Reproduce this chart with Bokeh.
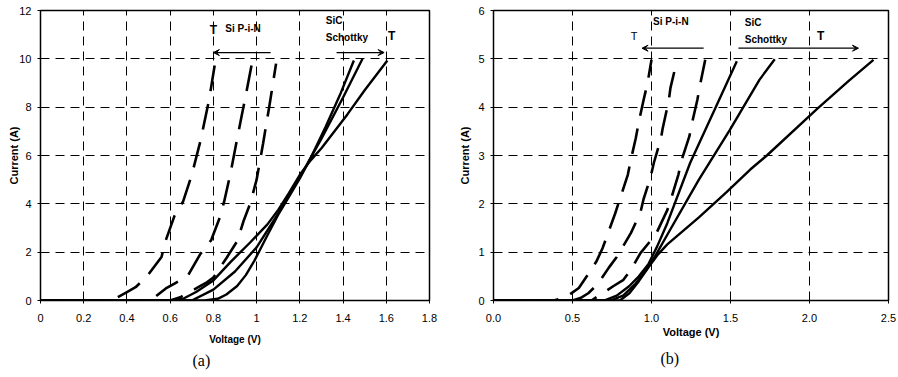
from bokeh.plotting import figure
from bokeh.layouts import row
from bokeh.models import Range1d, FixedTicker, Label, Arrow, VeeHead, Title
from bokeh.embed import file_html
from bokeh.resources import INLINE

# ---------------- Panel (a) data ----------------
a_x_ticks = [0, 0.2, 0.4, 0.6, 0.8, 1.0, 1.2, 1.4, 1.6, 1.8]
a_x_labels = ["0", "0.2", "0.4", "0.6", "0.8", "1", "1.2", "1.4", "1.6", "1.8"]
a_y_ticks = [0, 2, 4, 6, 8, 10, 12]
a_y_labels = ["0", "2", "4", "6", "8", "10", "12"]

# Si P-i-N (dashed), three temperatures
a_pin1_v = [0, 0.30, 0.34, 0.40, 0.44, 0.49, 0.56, 0.58, 0.62, 0.66, 0.70, 0.74, 0.78, 0.81]
a_pin1_i = [0, 0, 0.05, 0.35, 0.55, 0.97, 1.8, 2.5, 3.5, 4.1, 5.2, 6.6, 8.3, 9.95]
a_pin2_v = [0, 0.50, 0.53, 0.58, 0.62, 0.68, 0.74, 0.79, 0.83, 0.85, 0.88, 0.91, 0.93, 0.95, 0.98]
a_pin2_i = [0, 0, 0.15, 0.5, 0.7, 1.0, 1.93, 2.5, 3.44, 4.1, 5.3, 6.7, 7.6, 8.5, 9.9]
a_pin3_v = [0, 0.60, 0.65, 0.73, 0.77, 0.80, 0.86, 0.91, 0.94, 0.97, 1.00, 1.03, 1.06, 1.09]
a_pin3_i = [0, 0, 0.15, 0.55, 0.75, 0.95, 1.75, 2.45, 3.3, 4.0, 5.0, 6.5, 8.1, 9.8]

# SiC Schottky (solid), three temperatures
a_sch1_v = [0, 0.60, 0.66, 0.72, 0.80, 0.88, 0.97, 1.05, 1.10, 1.15, 1.20, 1.25, 1.30, 1.42, 1.50, 1.605]
a_sch1_i = [0, 0, 0.07, 0.35, 0.83, 1.6, 2.4, 3.15, 3.75, 4.45, 5.2, 5.8, 6.3, 7.7, 8.7, 9.93]
a_sch2_v = [0, 0.76, 0.82, 0.86, 0.91, 0.95, 0.99, 1.05, 1.10, 1.15, 1.20, 1.25, 1.32, 1.39, 1.45]
a_sch2_i = [0, 0, 0.07, 0.25, 0.6, 1.05, 1.65, 2.7, 3.55, 4.3, 5.05, 5.9, 7.2, 8.6, 9.93]
a_sch3_v = [0, 0.70, 0.80, 0.90, 1.00, 1.10, 1.20, 1.30, 1.40, 1.49]
a_sch3_i = [0, 0, 0.45, 1.2, 2.2, 3.6, 5.1, 6.7, 8.4, 10.0]

# ---------------- Panel (b) data ----------------
b_x_ticks = [0, 0.5, 1.0, 1.5, 2.0, 2.5]
b_x_labels = ["0.0", "0.5", "1.0", "1.5", "2.0", "2.5"]
b_y_ticks = [0, 1, 2, 3, 4, 5, 6]
b_y_labels = ["0", "1", "2", "3", "4", "5", "6"]

b_pin1_v = [0, 0.38, 0.42, 0.48, 0.54, 0.60, 0.65, 0.69, 0.72, 0.77, 0.81, 0.85, 0.87, 0.90, 0.92, 0.95, 0.975, 1.0]
b_pin1_i = [0, 0, 0.03, 0.12, 0.26, 0.55, 0.8, 1.08, 1.35, 1.8, 2.2, 2.6, 2.92, 3.35, 3.7, 4.15, 4.5, 4.98]
b_pin2_v = [0, 0.50, 0.55, 0.60, 0.66, 0.73, 0.78, 0.82, 0.87, 0.93, 0.95, 0.994, 1.015, 1.06, 1.07, 1.11, 1.12, 1.16]
b_pin2_i = [0, 0, 0.05, 0.15, 0.34, 0.68, 0.9, 1.12, 1.4, 1.82, 2.1, 2.55, 2.85, 3.35, 3.55, 4.15, 4.4, 4.95]
b_pin3_v = [0, 0.62, 0.69, 0.76, 0.82, 0.87, 0.93, 0.98, 1.035, 1.10, 1.13, 1.17, 1.19, 1.24, 1.255, 1.29, 1.31, 1.34]
b_pin3_i = [0, 0, 0.15, 0.3, 0.42, 0.64, 0.98, 1.18, 1.42, 1.87, 2.17, 2.6, 2.9, 3.4, 3.65, 4.15, 4.5, 4.98]

b_sch1_v = [0, 0.70, 0.78, 0.86, 0.92, 0.98, 1.036, 1.10, 1.245, 1.40, 1.54]
b_sch1_i = [0, 0, 0.1, 0.3, 0.5, 0.75, 1.12, 1.6, 2.85, 3.95, 4.95]
b_sch2_v = [0, 0.74, 0.82, 0.90, 0.96, 1.02, 1.10, 1.30, 1.496, 1.684, 1.78]
b_sch2_i = [0, 0, 0.1, 0.35, 0.6, 0.9, 1.36, 2.5, 3.53, 4.57, 4.99]
b_sch3_v = [0, 0.80, 0.86, 0.92, 0.98, 1.04, 1.10, 1.30, 1.475, 1.625, 1.73, 2.05, 2.25, 2.405]
b_sch3_i = [0, 0, 0.15, 0.4, 0.68, 0.95, 1.16, 1.72, 2.24, 2.71, 3.0, 3.97, 4.55, 4.98]

FONT = "Liberation Sans"
DASH = "26 13"
GRID_DASH = "9 6"


def make_fig(w, h, xr, yr, xt, xl, yt, yl, bl, br, bt, bb):
    p = figure(width=w, height=h, x_range=Range1d(*xr), y_range=Range1d(*yr),
               output_backend="svg", toolbar_location=None,
               min_border_left=bl, min_border_right=br, min_border_top=bt, min_border_bottom=bb)
    p.background_fill_color = "white"
    p.border_fill_color = "white"
    p.outline_line_color = "black"
    p.outline_line_width = 1.5
    p.xaxis.ticker = FixedTicker(ticks=xt)
    p.yaxis.ticker = FixedTicker(ticks=yt)
    p.xaxis.major_label_overrides = {t: s for t, s in zip(xt, xl)}
    p.yaxis.major_label_overrides = {t: s for t, s in zip(yt, yl)}
    for ax in (p.xaxis[0], p.yaxis[0]):
        ax.axis_line_color = "black"
        ax.major_tick_line_color = "black"
        ax.major_tick_out = 3
        ax.major_tick_in = 0
        ax.minor_tick_line_color = None
        ax.major_label_text_font = FONT
        ax.major_label_text_font_size = "11px"
        ax.major_label_text_color = "black"
        ax.axis_label_text_font = FONT
        ax.axis_label_text_font_style = "bold"
        ax.axis_label_text_color = "black"
    p.xaxis.major_label_standoff = 10
    p.yaxis.major_label_standoff = 6
    for g in (p.xgrid[0], p.ygrid[0]):
        g.grid_line_color = "black"
        g.grid_line_dash = GRID_DASH
        g.grid_line_width = 1
    return p


def lab(p, x, y, text, size="10px", style="bold", align="left", base="middle", angle=0, font=FONT):
    p.add_layout(Label(x=x, y=y, text=text, text_font=font, text_font_size=size,
                       text_font_style=style, text_align=align, text_baseline=base,
                       angle=angle, text_color="black"))


def arrow(p, x0, y0, x1, y1):
    p.add_layout(Arrow(end=VeeHead(size=6, fill_color="black", line_color="black"),
                       x_start=x0, y_start=y0, x_end=x1, y_end=y1,
                       line_color="black", line_width=1.3))


def caption(p, text, offset, standoff):
    p.add_layout(Title(text=text, align="left", offset=offset, standoff=standoff,
                       text_font="Liberation Serif", text_font_size="16px",
                       text_font_style="normal", text_color="black"), "below")


# ---------------- Panel (a) ----------------
pa = make_fig(449, 377, (0, 1.8), (0, 12), a_x_ticks, a_x_labels, a_y_ticks, a_y_labels,
              40, 20, 10, 77)
for v, i in [(a_pin1_v, a_pin1_i), (a_pin2_v, a_pin2_i), (a_pin3_v, a_pin3_i)]:
    pa.line(v, i, line_color="black", line_width=2.6, line_dash=DASH)
for v, i in [(a_sch1_v, a_sch1_i), (a_sch2_v, a_sch2_i), (a_sch3_v, a_sch3_i)]:
    pa.line(v, i, line_color="black", line_width=2.4)

lab(pa, 0.80, 11.2, "T", size="12px", align="center")
lab(pa, 0.855, 11.25, "Si P-i-N")
arrow(pa, 1.065, 10.26, 0.80, 10.26)
lab(pa, 1.32, 11.6, "SiC")
lab(pa, 1.32, 10.9, "Schottky")
lab(pa, 1.625, 10.95, "T", size="12px", align="center")
arrow(pa, 1.37, 10.26, 1.59, 10.26)

pa.xaxis.axis_label = "Voltage (V)"
pa.xaxis.axis_label_text_font_size = "10px"
pa.xaxis.axis_label_standoff = 9
pa.yaxis.axis_label = "Current (A)"
pa.yaxis.axis_label_text_font_size = "11px"
pa.yaxis.axis_label_standoff = -4
caption(pa, "(a)", 152, 5)

# ---------------- Panel (b) ----------------
pb = make_fig(449, 377, (0, 2.5), (0, 6), b_x_ticks, b_x_labels, b_y_ticks, b_y_labels,
              44, 10, 7, 75)
for v, i in [(b_pin1_v, b_pin1_i), (b_pin2_v, b_pin2_i), (b_pin3_v, b_pin3_i)]:
    pb.line(v, i, line_color="black", line_width=2.6, line_dash=DASH)
for v, i in [(b_sch1_v, b_sch1_i), (b_sch2_v, b_sch2_i), (b_sch3_v, b_sch3_i)]:
    pb.line(v, i, line_color="black", line_width=2.4)

lab(pb, 0.89, 5.47, "T", size="11px", style="normal", align="center")
lab(pb, 1.01, 5.77, "Si P-i-N")
arrow(pb, 1.33, 5.22, 0.94, 5.22)
lab(pb, 1.59, 5.75, "SiC")
lab(pb, 1.59, 5.39, "Schottky")
lab(pb, 2.07, 5.47, "T", size="12px", align="center")
arrow(pb, 1.55, 5.22, 2.31, 5.22)

pb.xaxis.axis_label = "Voltage (V)"
pb.xaxis.axis_label_text_font_size = "11px"
pb.xaxis.axis_label_standoff = 1
pb.yaxis.axis_label = "Current (A)"
pb.yaxis.axis_label_text_font_size = "11px"
pb.yaxis.axis_label_standoff = 4
caption(pb, "(b)", 167, 15)

layout = row(pa, pb)
open("out.html", "w").write(file_html(layout, INLINE))
